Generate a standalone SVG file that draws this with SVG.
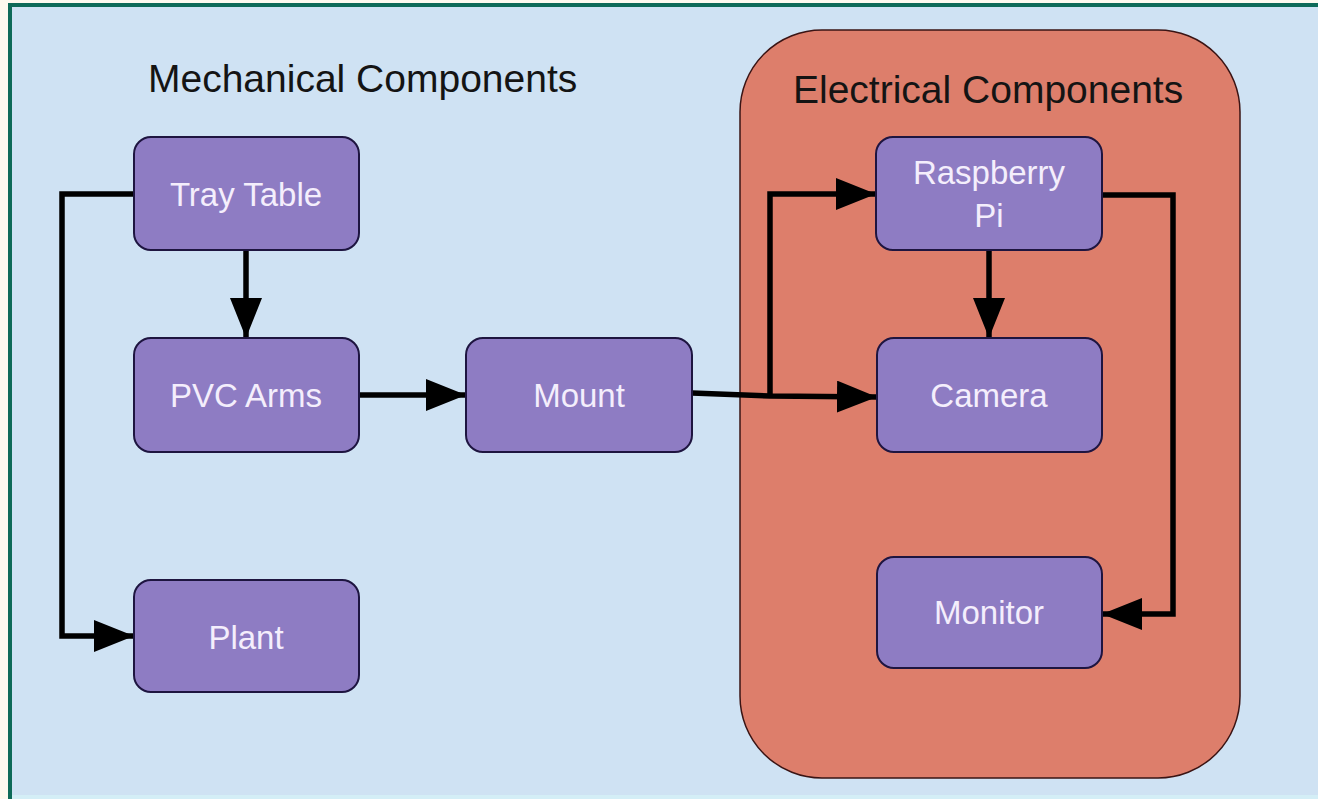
<svg xmlns="http://www.w3.org/2000/svg" width="1318" height="799" viewBox="0 0 1318 799">
<defs>
<style>
.node rect{fill:#8e7cc3;stroke:#1e1540;stroke-width:2}
.node text{fill:#f4eefc;font-family:"Liberation Sans",Arial,sans-serif;font-size:33px;text-anchor:middle}
.title{fill:#141414;font-family:"Liberation Sans",Arial,sans-serif;font-size:39px}
.conn{fill:none;stroke:#000;stroke-width:5.5;stroke-linejoin:miter}
</style>
<marker id="ah" viewBox="0 0 40 32" refX="40" refY="16" markerWidth="40" markerHeight="32" markerUnits="userSpaceOnUse" orient="auto">
<path d="M0,0 L40,16 L0,32 Z" fill="#000"/>
</marker>
</defs>
<rect x="0" y="0" width="1318" height="799" fill="#fdf9ee"/>
<rect x="10" y="5" width="1308" height="794" fill="#cfe2f3"/>
<rect x="10" y="795" width="1308" height="4" fill="#d4eef6"/>
<rect x="8" y="3" width="1310" height="4" fill="#0e6a58"/>
<rect x="8" y="3" width="4" height="796" fill="#0e6a58"/>
<g id="electrical-group">
<rect x="740" y="30" width="500" height="748" rx="82" ry="82" fill="#dd7e6b" stroke="#3a1414" stroke-width="1.5"/>
<text class="title" x="793" y="103">Electrical Components</text>
</g>
<g id="mechanical-label">
<text class="title" x="148" y="92">Mechanical Components</text>
</g>
<g id="connectors">
<polyline class="conn" points="134,194 62,194 62,636 134,636" marker-end="url(#ah)"/>
<line class="conn" x1="246" y1="250" x2="246" y2="338" marker-end="url(#ah)"/>
<line class="conn" x1="359" y1="395" x2="466" y2="395" marker-end="url(#ah)"/>
<polyline class="conn" points="692,393 770,396 877,397" marker-end="url(#ah)"/>
<polyline class="conn" points="770,396 770,194 876,194" marker-end="url(#ah)"/>
<line class="conn" x1="989" y1="250" x2="989" y2="338" marker-end="url(#ah)"/>
<polyline class="conn" points="1102,195 1173,195 1173,614 1102,614" marker-end="url(#ah)"/>
</g>
<g id="tray-table" class="node"><rect x="134" y="137" width="225" height="113" rx="17"/><text x="246" y="206">Tray Table</text></g>
<g id="pvc-arms" class="node"><rect x="134" y="338" width="225" height="114" rx="17"/><text x="246" y="407">PVC Arms</text></g>
<g id="plant" class="node"><rect x="134" y="580" width="225" height="112" rx="17"/><text x="246" y="649">Plant</text></g>
<g id="mount" class="node"><rect x="466" y="338" width="226" height="114" rx="17"/><text x="579" y="407">Mount</text></g>
<g id="raspberry-pi" class="node"><rect x="876" y="137" width="226" height="113" rx="17"/><text x="989" y="184">Raspberry</text><text x="989" y="227">Pi</text></g>
<g id="camera" class="node"><rect x="877" y="338" width="225" height="114" rx="17"/><text x="989" y="407">Camera</text></g>
<g id="monitor" class="node"><rect x="877" y="557" width="225" height="111" rx="17"/><text x="989" y="624">Monitor</text></g>
</svg>
